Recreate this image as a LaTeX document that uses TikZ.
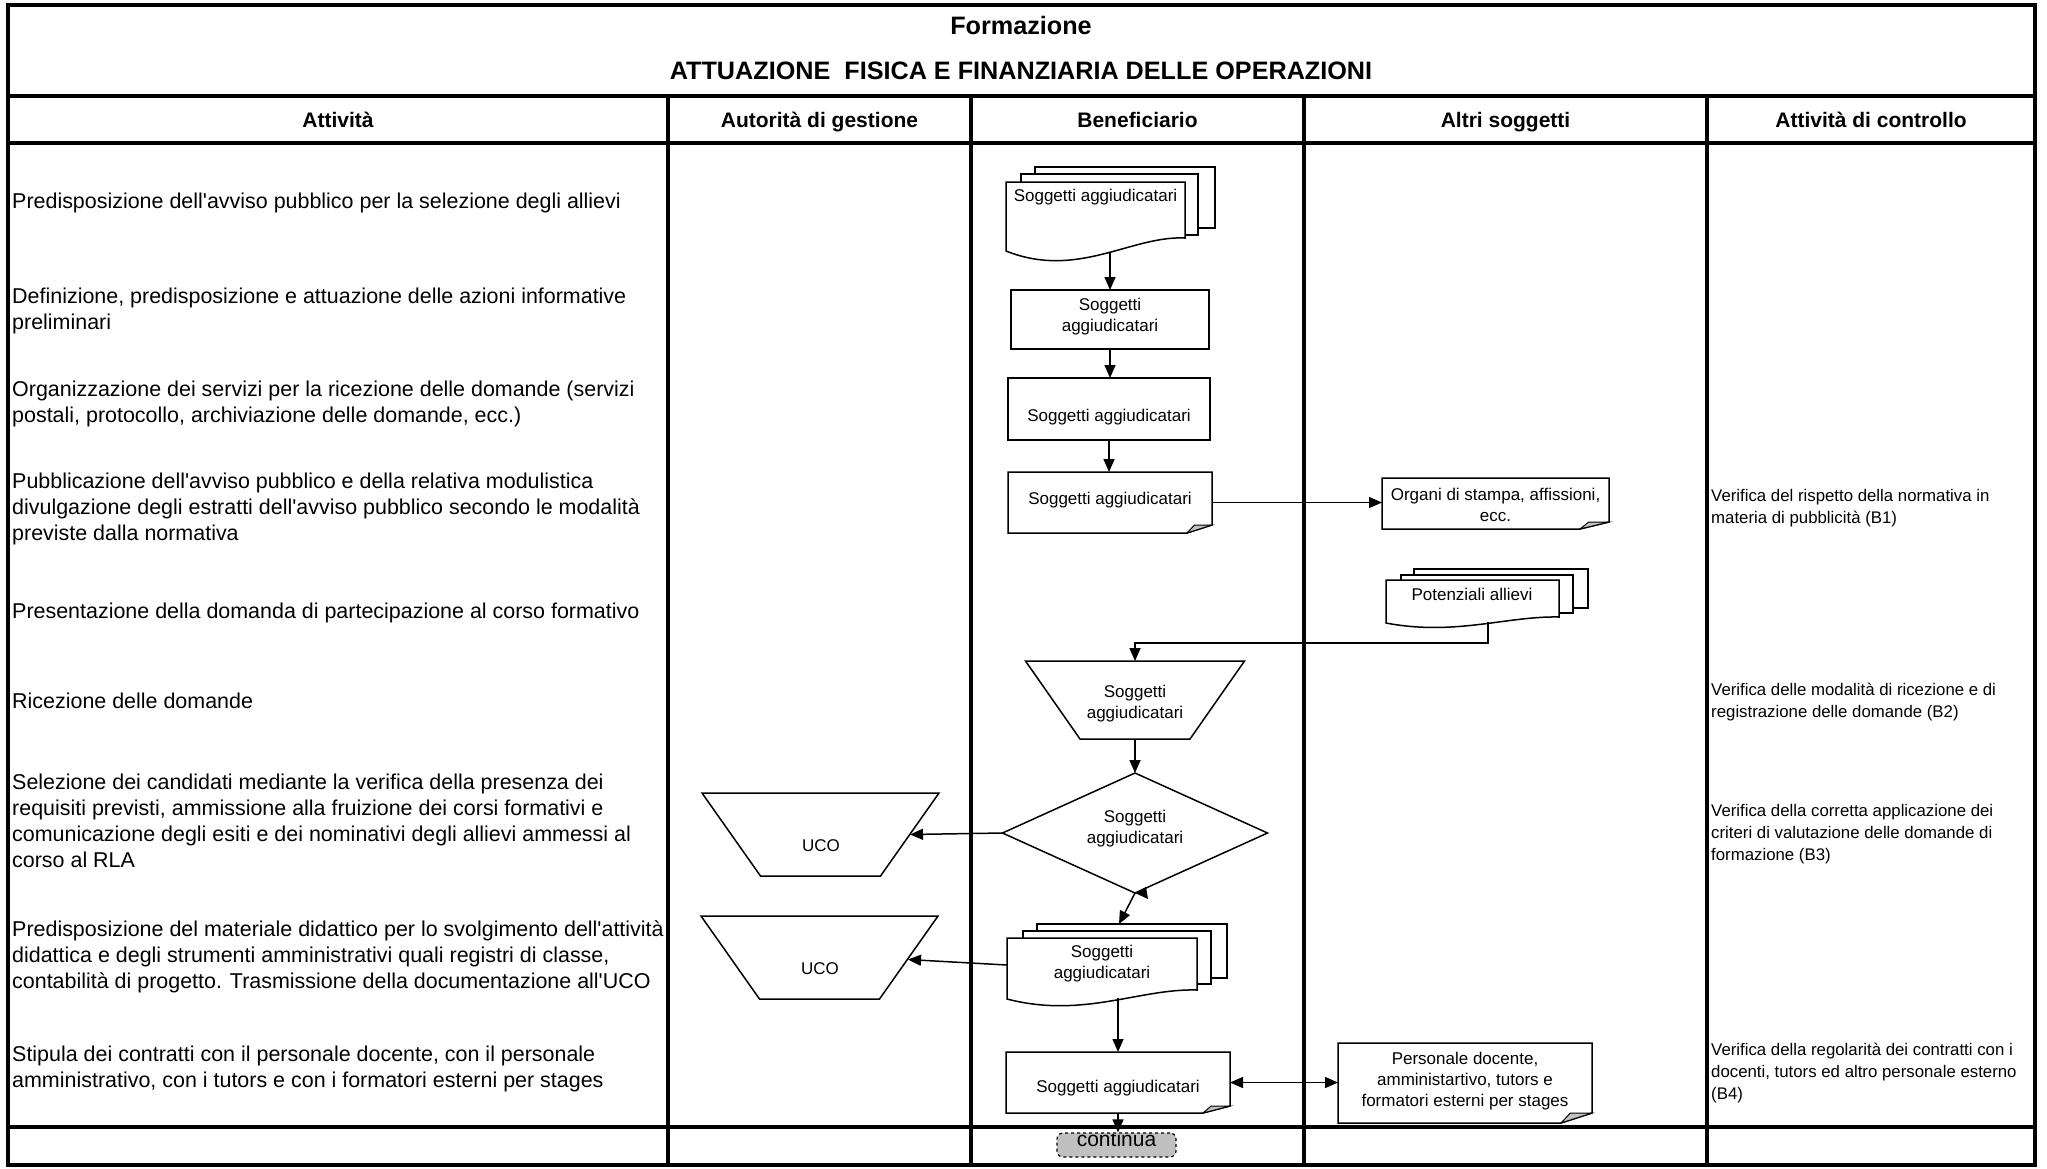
\documentclass[tikz,border=0pt]{standalone}
\usepackage{fontspec}
\setmainfont{Liberation Sans}
\usetikzlibrary{arrows.meta,calc,shapes.geometric}

\definecolor{foldgray}{RGB}{192,192,192}
\newcommand\aps{\textquotesingle}

% front sheet of a document symbol: straight top, wavy lower edge
\newcommand\wavydoc[5]{% left, top, right, lower-left y, lower-right y
  \pgfmathsetmacro\wdW{#3-#1}%
  \pgfmathsetmacro\wdD{#4-#5}%
  \draw[shp] (#1,#2) -- (#3,#2) -- (#3,#5)
    .. controls ({#1+0.7*\wdW},{#5-0.2*\wdD}) and ({#1+0.4*\wdW},{#4+2.2*\wdD}) .. (#1,#4) -- cycle;}

% note symbol on a named area node: folded lower-right corner
\newcommand\notefold[3]{% node, fold width, fold height
  \draw[shp] (#1.north west) -- (#1.north east) -- ($(#1.south east)+(0,-#3)$)
    -- ($(#1.south east)+(-#2,0)$) -- (#1.south west) -- cycle;
  \filldraw[fill=foldgray,line width=1pt] ($(#1.south east)+(-#2,0)$)
    -- ($(#1.south east)+({-0.7*#2},-#3)$) -- ($(#1.south east)+(0,-#3)$) -- cycle;}

% manual-operation symbol (wide top) on a named area node
\newcommand\trapz[2]{% node, inset of the lower edge
  \draw[shp] (#1.north west) -- (#1.north east) -- ($(#1.south east)+(-#2,0)$)
    -- ($(#1.south west)+(#2,0)$) -- cycle;}

\begin{document}
\begin{tikzpicture}[x=1pt,y=-1pt,
  grid/.style={line width=4.5pt},
  shp/.style={draw,line width=1.5pt,fill=white},
  area/.style={draw=none,inner sep=0pt,outer sep=0pt},
  boxed/.style={draw,line width=1.5pt,fill=white,inner sep=0pt,outer sep=0pt},
  tip/.tip={Triangle[length=13pt,width=11pt]},
  arr/.style={line width=1.5pt,-tip},
  dblarr/.style={line width=1.5pt,tip-tip},
  act/.style={anchor=west,align=left,inner sep=0pt,font=\fontsize{21.45}{26}\selectfont},
  ctl/.style={anchor=west,align=left,inner sep=0pt,font=\fontsize{16.8}{22}\selectfont},
  hdr/.style={inner sep=0pt,text height=15pt,text depth=4.5pt,font=\fontsize{21}{25}\selectfont\bfseries},
  ttl/.style={inner sep=0pt,text height=18pt,text depth=5.3pt,font=\fontsize{25.2}{30}\selectfont\bfseries},
  lbl/.style={align=center,inner sep=0pt,font=\fontsize{17}{21}\selectfont},
]
\useasboundingbox (0,0) rectangle (2047,1168);
\fill[white] (0,0) rectangle (2047,1168);

% ---------- continuation marker (its text partly hidden under the rule) ----------
\node[draw,dashed,rounded corners=6pt,line width=1.2pt,fill=foldgray,inner sep=0pt,
      minimum width=119,minimum height=24] (cont) at (1116.5,1145) {};
\begin{scope}
  \clip (1000,1134) rectangle (1200,1160);
  \node[font=\fontsize{21}{25}\selectfont,inner sep=0pt,anchor=base] (contt) at (1116.5,1146) {continua};
\end{scope}

% ---------- table ----------
\draw[grid] (8,5) rectangle (2035,1165);
\draw[grid] (8,96) -- (2035,96);
\draw[grid] (8,143) -- (2035,143);
\draw[grid] (8,1127) -- (2035,1127);
\foreach \cx in {668,971,1304,1707} \draw[grid] (\cx,96) -- (\cx,1165);

\node[ttl] (t1) at (1021,27.7) {Formazione};
\node[ttl] (t2) at (1021,72.7) {ATTUAZIONE\ \ FISICA E FINANZIARIA DELLE OPERAZIONI};

\node[hdr] (h1) at (338,122.5) {Attività};
\node[hdr] (h2) at (819.5,122.5) {Autorità di gestione};
\node[hdr] (h3) at (1137.5,122.5) {Beneficiario};
\node[hdr] (h4) at (1505.5,122.5) {Altri soggetti};
\node[hdr] (h5) at (1871,122.5) {Attività di controllo};

% ---------- activities ----------
\node[act] (a1) at (12,203) {Predisposizione dell\aps avviso pubblico per la selezione degli allievi};
\node[act] (a2) at (12,310.5) {Definizione, predisposizione e attuazione delle azioni informative\\preliminari};
\node[act] (a3) at (12,403.5) {Organizzazione dei servizi per la ricezione delle domande (servizi\\postali, protocollo, archiviazione delle domande, ecc.)};
\node[act] (a4) at (12,509) {Pubblicazione dell\aps avviso pubblico e della relativa modulistica\\divulgazione degli estratti dell\aps avviso pubblico secondo le modalità\\previste dalla normativa};
\node[act] (a5) at (12,613) {Presentazione della domanda di partecipazione al corso formativo};
\node[act] (a6) at (12,701) {Ricezione delle domande};
\node[act] (a7) at (12,821) {Selezione dei candidati mediante la verifica della presenza dei\\requisiti previsti, ammissione alla fruizione dei corsi formativi e\\comunicazione degli esiti e dei nominativi degli allievi ammessi al\\corso al RLA};
\node[act] (a8) at (12,956.5) {Predisposizione del materiale didattico per lo svolgimento dell\aps attività\\didattica e degli strumenti amministrativi quali registri di classe,\\contabilità di progetto. Trasmissione della documentazione all\aps UCO};
\node[act] (a9) at (12,1069) {Stipula dei contratti con il personale docente, con il personale\\amministrativo, con i tutors e con i formatori esterni per stages};

% ---------- controls ----------
\node[ctl] (c1) at (1711,508) {Verifica del rispetto della normativa in\\materia di pubblicità (B1)};
\node[ctl] (c2) at (1711,702) {Verifica delle modalità di ricezione e di\\registrazione delle domande (B2)};
\node[ctl] (c3) at (1711,834) {Verifica della corretta applicazione dei\\criteri di valutazione delle domande di\\formazione (B3)};
\node[ctl] (c4) at (1711,1073) {Verifica della regolarità dei contratti con i\\docenti, tutors ed altro personale esterno\\(B4)};

% ---------- flow symbols ----------
% document stack: notice preparation
\draw[shp] (1035,167) rectangle (1215,228);
\draw[shp] (1021,174) rectangle (1198,235);
\wavydoc{1006}{182}{1185}{251}{238}
\node[lbl] (docA) at (1095.5,197) {Soggetti aggiudicatari};
\coordinate (docAout) at (1110,252);

\node[boxed,minimum width=198,minimum height=59] (box2) at (1110,319.5) {};
\node[lbl] (box2t) at (1110,317) {Soggetti\\aggiudicatari};

\node[boxed,minimum width=202,minimum height=62] (box3) at (1109,409) {};
\node[lbl] (box3t) at (1109,417) {Soggetti aggiudicatari};

\node[area,minimum width=204,minimum height=61] (box4) at (1110,502.5) {};
\notefold{box4}{25}{8}
\node[lbl] (box4t) at (1110,500) {Soggetti aggiudicatari};

\node[area,minimum width=227,minimum height=51] (org) at (1495.5,503.5) {};
\notefold{org}{29}{7}
\node[lbl] (orgt) at (1495.5,504.5) {Organi di stampa, affissioni,\\ecc.};

% document stack: applicants
\draw[shp] (1414,569) rectangle (1588,608);
\draw[shp] (1401,575) rectangle (1573,613);
\wavydoc{1386}{580}{1559}{623}{617}
\node[lbl] (docP) at (1472,594) {Potenziali allievi};
\coordinate (docPout) at (1488,622);

\node[area,minimum width=219,minimum height=78] (ric) at (1135,700) {};
\trapz{ric}{54.5}
\node[lbl] (rict) at (1135,704) {Soggetti\\aggiudicatari};

\node[diamond,boxed,minimum width=265,minimum height=120] (dia) at (1135,833) {};
\node[lbl] (diat) at (1135,828.5) {Soggetti\\aggiudicatari};

\node[area,minimum width=237,minimum height=83] (uco1) at (820.5,834.5) {};
\trapz{uco1}{58.5}
\node[lbl] (uco1t) at (821,846) {UCO};

\node[area,minimum width=237,minimum height=83] (uco2) at (819.5,957.5) {};
\trapz{uco2}{58.5}
\node[lbl] (uco2t) at (820,969) {UCO};

% document stack: teaching material
\draw[shp] (1037,924) rectangle (1227,978);
\draw[shp] (1023,931) rectangle (1211,984);
\wavydoc{1007}{938}{1197}{999}{990}
\node[lbl] (docM) at (1102,964) {Soggetti\\aggiudicatari};
\coordinate (docMin) at (1119,924);
\coordinate (docMwest) at (1007,965);
\coordinate (docMout) at (1118,998);

\node[area,minimum width=224,minimum height=61] (sa9) at (1118,1082.5) {};
\notefold{sa9}{27}{7}
\node[lbl] (sa9t) at (1118,1088) {Soggetti aggiudicatari};

\node[area,minimum width=254,minimum height=80] (pers) at (1465,1083) {};
\notefold{pers}{31}{10}
\node[lbl] (perst) at (1465,1081) {Personale docente,\\amministartivo, tutors e\\formatori esterni per stages};

% ---------- connectors ----------
\draw[arr] (docAout) -- (box2.north);
\draw[arr] (box2.south) -- (box2.south |- box3.north);
\draw[arr] (box3.south) -- (box3.south |- box4.north);
\draw[arr] (box4.east) -- (box4.east -| org.west);
\draw[arr] (docPout) -- ++(0,21) -| (ric.north);
\draw[arr] (ric.south) -- (dia.north);
\draw[arr] (dia.west) -- ($(uco1.east)+(-29,0)$);
\fill (dia.south) -- ++(11,-6) -- ++(2,12) -- cycle;
\draw[arr] (dia.south) -- (docMin);
\draw[arr] (docMwest) -- ($(uco2.east)+(-30,2)$);
\draw[arr] (docMout) -- (docMout |- sa9.north);
\draw[dblarr] (sa9.east) -- (sa9.east -| pers.west);
\draw[arr] (sa9.south) -- (sa9.south |- cont.north);

\end{tikzpicture}
\end{document}
